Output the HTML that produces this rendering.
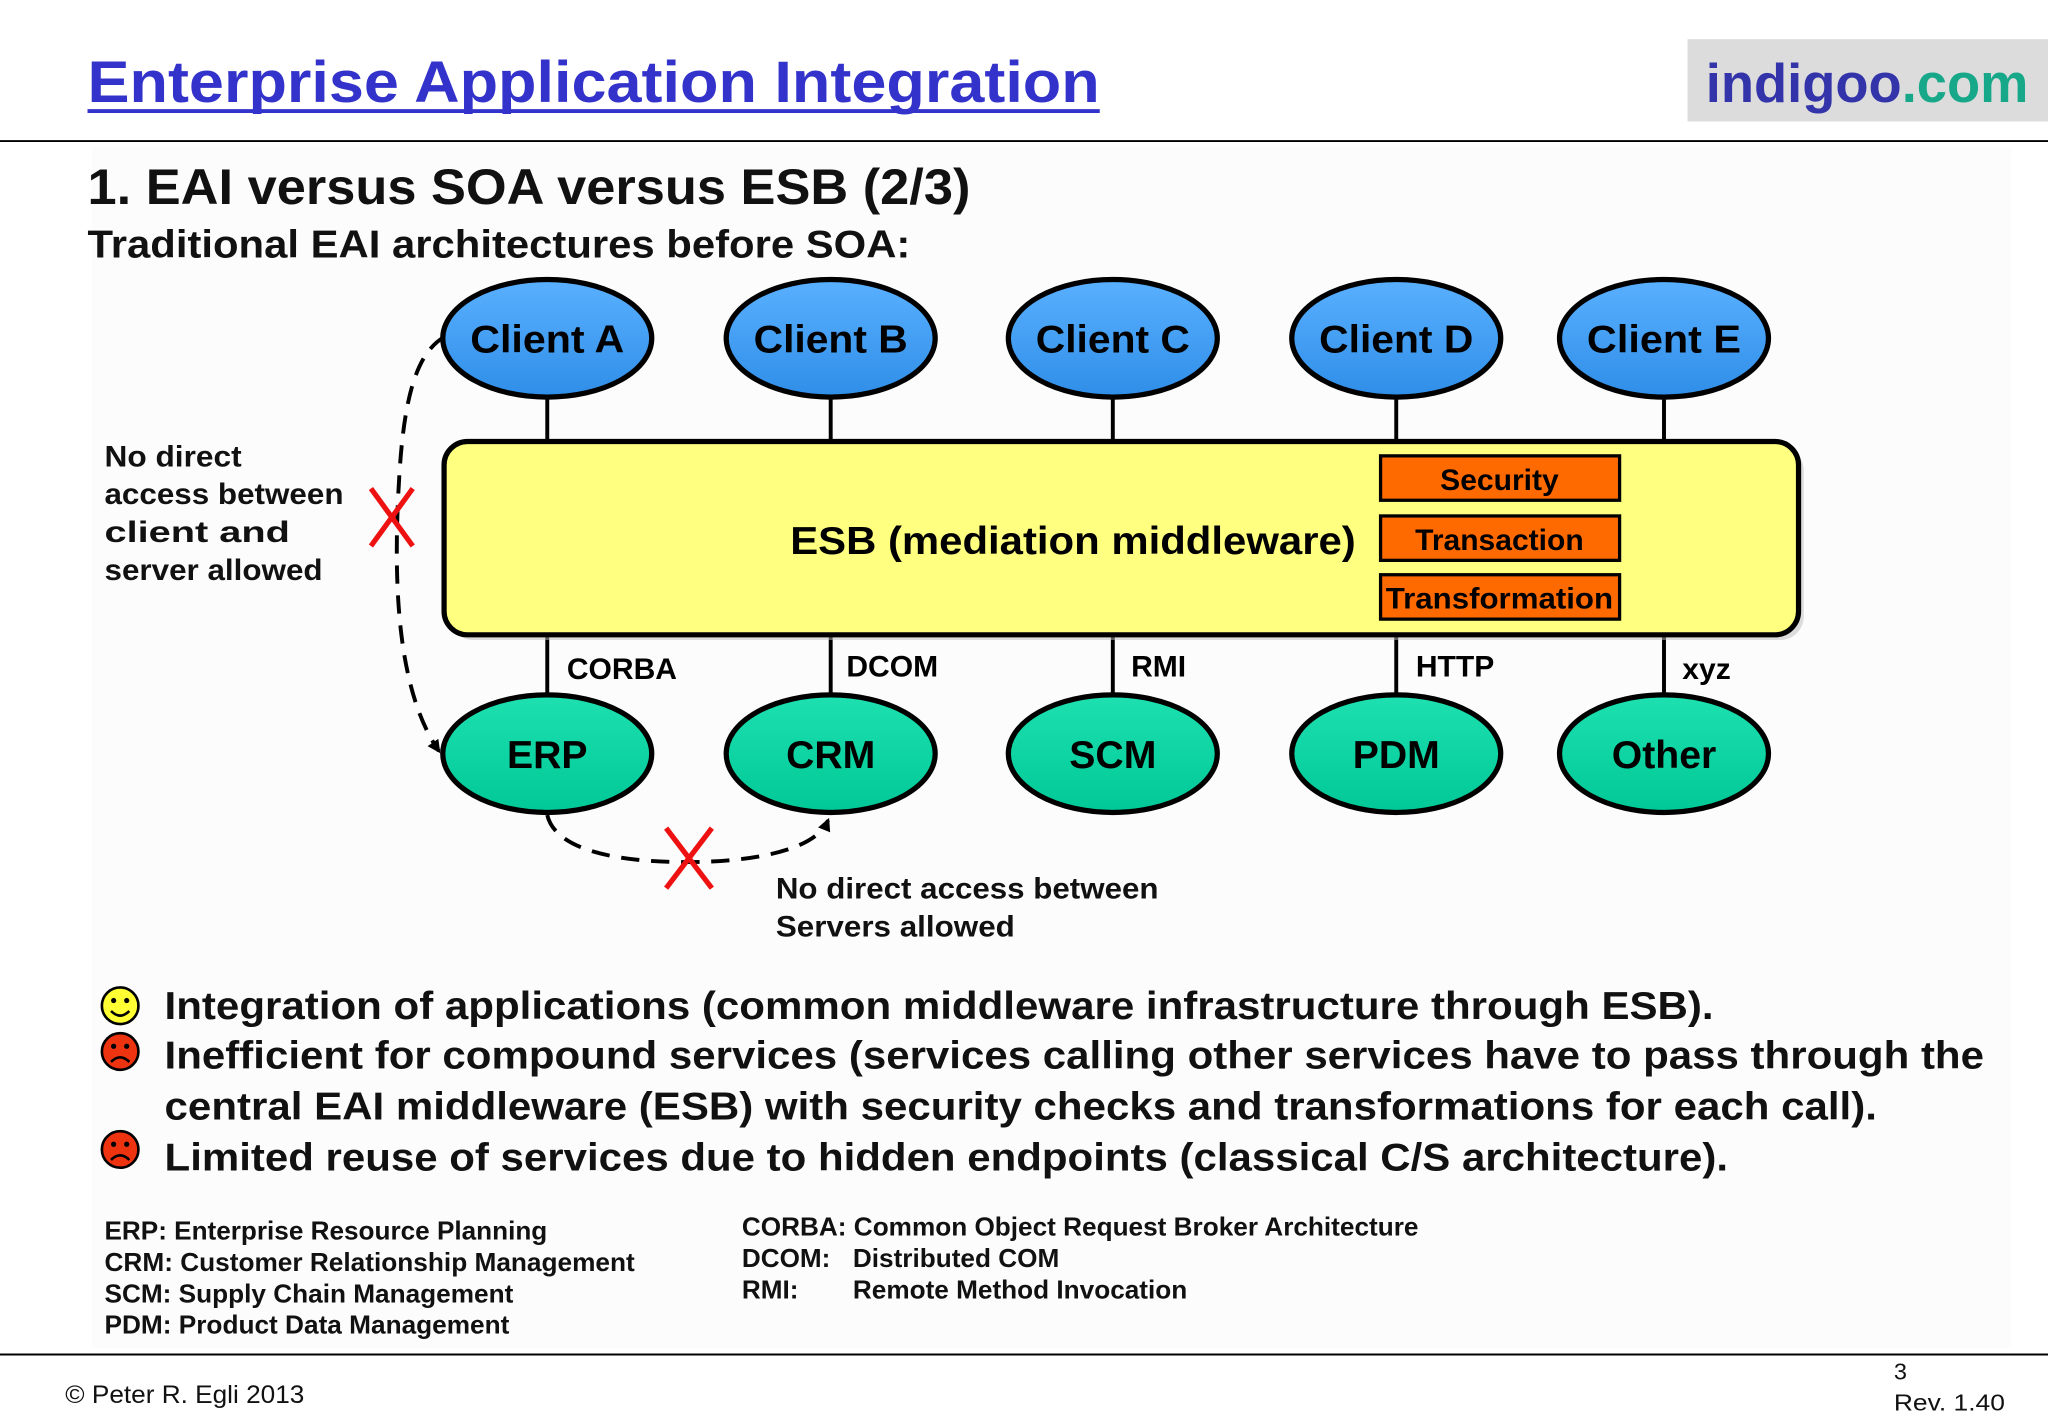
<!DOCTYPE html>
<html><head><meta charset="utf-8"><style>
html,body{margin:0;padding:0;background:#fff;}
svg{display:block;}
text{font-family:"Liberation Sans",Arial,sans-serif;}
</style></head><body>
<svg width="2048" height="1418" viewBox="0 0 1568 1085.6" preserveAspectRatio="none" xmlns="http://www.w3.org/2000/svg">
<defs>
<linearGradient id="bl" x1="0" y1="0" x2="0" y2="1"><stop offset="0" stop-color="#5ab0ff"/><stop offset="1" stop-color="#2f8ee8"/></linearGradient>
<linearGradient id="gr" x1="0" y1="0" x2="0" y2="1"><stop offset="0" stop-color="#1ee0b0"/><stop offset="1" stop-color="#00c896"/></linearGradient>
<marker id="ah" markerWidth="10" markerHeight="10" refX="8" refY="5" orient="auto" markerUnits="userSpaceOnUse"><path d="M0,0 L10,5 L0,10 z" fill="#000"/></marker>
</defs>
<rect x="0" y="0" width="1568" height="1086" fill="#fff"/>
<rect x="70" y="112" width="1470" height="920" fill="#fcfcfc"/>
<text x="67" y="78" font-size="45" font-weight="bold" fill="#3333cc" textLength="775" lengthAdjust="spacingAndGlyphs">Enterprise Application Integration</text>
<line x1="67" y1="85" x2="842" y2="85" stroke="#3333cc" stroke-width="3"/>
<rect x="1292" y="30" width="276" height="63" fill="#dcdcdc"/>
<text x="1306" y="78" font-size="42" font-weight="bold" fill="#3333aa" textLength="247" lengthAdjust="spacingAndGlyphs">indigoo<tspan fill="#17a88a">.com</tspan></text>
<line x1="0" y1="108" x2="1568" y2="108" stroke="#000" stroke-width="1.5"/>
<text x="67" y="156" font-size="38" font-weight="bold" fill="#111" textLength="676" lengthAdjust="spacingAndGlyphs">1. EAI versus SOA versus ESB (2/3)</text>
<text x="67" y="197" font-size="30" font-weight="bold" fill="#111" textLength="630" lengthAdjust="spacingAndGlyphs">Traditional EAI architectures before SOA:</text>
<g stroke="#000" stroke-width="3">
<line x1="419" y1="304" x2="419" y2="340"/><line x1="636" y1="304" x2="636" y2="340"/><line x1="852" y1="304" x2="852" y2="340"/><line x1="1069" y1="304" x2="1069" y2="340"/><line x1="1274" y1="304" x2="1274" y2="340"/>
<line x1="419" y1="486" x2="419" y2="534"/><line x1="636" y1="486" x2="636" y2="534"/><line x1="852" y1="486" x2="852" y2="534"/><line x1="1069" y1="486" x2="1069" y2="534"/><line x1="1274" y1="486" x2="1274" y2="534"/>
</g>
<rect x="344" y="342" width="1037" height="148" rx="18" fill="#bbb" opacity="0.5"/>
<rect x="340" y="338" width="1037" height="148" rx="18" fill="#ffff80" stroke="#000" stroke-width="4"/>
<text x="605" y="424" font-size="30" font-weight="bold" textLength="433" lengthAdjust="spacingAndGlyphs">ESB (mediation middleware)</text>
<g stroke="#000" stroke-width="2.5" fill="#ff6a00">
<rect x="1057" y="349" width="183" height="34"/><rect x="1057" y="395" width="183" height="34"/><rect x="1057" y="440" width="183" height="34"/>
</g>
<g font-size="23" font-weight="bold" text-anchor="middle">
<text x="1148" y="375">Security</text><text x="1148" y="421">Transaction</text><text x="1148" y="466" textLength="174" lengthAdjust="spacingAndGlyphs">Transformation</text>
</g>
<g stroke="#000" stroke-width="4" fill="url(#bl)">
<ellipse cx="419" cy="259" rx="80" ry="45"/><ellipse cx="636" cy="259" rx="80" ry="45"/><ellipse cx="852" cy="259" rx="80" ry="45"/><ellipse cx="1069" cy="259" rx="80" ry="45"/><ellipse cx="1274" cy="259" rx="80" ry="45"/>
</g>
<g font-size="30" font-weight="bold" text-anchor="middle">
<text x="419" y="270" textLength="118" lengthAdjust="spacingAndGlyphs">Client A</text><text x="636" y="270" textLength="118" lengthAdjust="spacingAndGlyphs">Client B</text><text x="852" y="270" textLength="118" lengthAdjust="spacingAndGlyphs">Client C</text><text x="1069" y="270" textLength="118" lengthAdjust="spacingAndGlyphs">Client D</text><text x="1274" y="270" textLength="118" lengthAdjust="spacingAndGlyphs">Client E</text>
</g>
<g stroke="#000" stroke-width="4" fill="url(#gr)">
<ellipse cx="419" cy="577" rx="80" ry="45"/><ellipse cx="636" cy="577" rx="80" ry="45"/><ellipse cx="852" cy="577" rx="80" ry="45"/><ellipse cx="1069" cy="577" rx="80" ry="45"/><ellipse cx="1274" cy="577" rx="80" ry="45"/>
</g>
<g font-size="30" font-weight="bold" text-anchor="middle">
<text x="419" y="588">ERP</text><text x="636" y="588">CRM</text><text x="852" y="588">SCM</text><text x="1069" y="588">PDM</text><text x="1274" y="588">Other</text>
</g>
<g font-size="23" font-weight="bold">
<text x="434" y="520">CORBA</text><text x="648" y="518">DCOM</text><text x="866" y="518">RMI</text><text x="1084" y="518">HTTP</text><text x="1288" y="520">xyz</text>
</g>
<path d="M340,258 C320,270 310,300 306,360 C300,450 305,530 336,575" fill="none" stroke="#000" stroke-width="3" stroke-dasharray="14,9" marker-end="url(#ah)"/>
<path d="M419,624 C425,650 470,660 525,660 C580,660 625,650 634,628" fill="none" stroke="#000" stroke-width="3" stroke-dasharray="14,9" marker-end="url(#ah)"/>
<g stroke="#ee1111" stroke-width="4">
<line x1="284" y1="374" x2="316" y2="418"/><line x1="316" y1="374" x2="284" y2="418"/>
<line x1="510" y1="634" x2="545" y2="680"/><line x1="545" y1="634" x2="510" y2="680"/>
</g>
<g font-size="23" font-weight="bold" fill="#111" lengthAdjust="spacingAndGlyphs">
<text x="80" y="357" textLength="105" lengthAdjust="spacingAndGlyphs">No direct</text><text x="80" y="386" textLength="183" lengthAdjust="spacingAndGlyphs">access between</text><text x="80" y="415" textLength="142" lengthAdjust="spacingAndGlyphs">client and</text><text x="80" y="444" textLength="167" lengthAdjust="spacingAndGlyphs">server allowed</text>
<text x="594" y="688" textLength="293" lengthAdjust="spacingAndGlyphs">No direct access between</text><text x="594" y="717" textLength="183" lengthAdjust="spacingAndGlyphs">Servers allowed</text>
</g>
<circle cx="92" cy="770" r="14" fill="#ffff33" stroke="#000" stroke-width="2"/>
<circle cx="87" cy="766" r="2" fill="#000"/><circle cx="97" cy="766" r="2" fill="#000"/>
<path d="M85,774 Q92,781 99,774" fill="none" stroke="#000" stroke-width="2"/>
<circle cx="92" cy="805" r="14" fill="#ee3311" stroke="#000" stroke-width="2"/>
<circle cx="87" cy="801" r="2" fill="#000"/><circle cx="97" cy="801" r="2" fill="#000"/>
<path d="M85,813 Q92,806 99,813" fill="none" stroke="#000" stroke-width="2"/>
<circle cx="92" cy="880" r="14" fill="#ee3311" stroke="#000" stroke-width="2"/>
<circle cx="87" cy="876" r="2" fill="#000"/><circle cx="97" cy="876" r="2" fill="#000"/>
<path d="M85,888 Q92,881 99,888" fill="none" stroke="#000" stroke-width="2"/>
<g font-size="30" font-weight="bold" fill="#111">
<text x="126" y="780" textLength="1186" lengthAdjust="spacingAndGlyphs">Integration of applications (common middleware infrastructure through ESB).</text>
<text x="126" y="818" textLength="1393" lengthAdjust="spacingAndGlyphs">Inefficient for compound services (services calling other services have to pass through the</text>
<text x="126" y="857" textLength="1311" lengthAdjust="spacingAndGlyphs">central EAI middleware (ESB) with security checks and transformations for each call).</text>
<text x="126" y="896" textLength="1197" lengthAdjust="spacingAndGlyphs">Limited reuse of services due to hidden endpoints (classical C/S architecture).</text>
</g>
<g font-size="20" font-weight="bold" fill="#111">
<text x="80" y="949" textLength="339" lengthAdjust="spacingAndGlyphs">ERP: Enterprise Resource Planning</text>
<text x="80" y="973" textLength="406" lengthAdjust="spacingAndGlyphs">CRM: Customer Relationship Management</text>
<text x="80" y="997" textLength="313" lengthAdjust="spacingAndGlyphs">SCM: Supply Chain Management</text>
<text x="80" y="1021" textLength="310" lengthAdjust="spacingAndGlyphs">PDM: Product Data Management</text>
<text x="568" y="946" textLength="518" lengthAdjust="spacingAndGlyphs">CORBA: Common Object Request Broker Architecture</text>
<text x="568" y="970">DCOM:</text><text x="653" y="970" textLength="158" lengthAdjust="spacingAndGlyphs">Distributed COM</text>
<text x="568" y="994">RMI:</text><text x="653" y="994" textLength="256" lengthAdjust="spacingAndGlyphs">Remote Method Invocation</text>
</g>
<line x1="0" y1="1037" x2="1568" y2="1037" stroke="#000" stroke-width="1.5"/>
<text x="50" y="1074" font-size="19" fill="#111" textLength="183" lengthAdjust="spacingAndGlyphs">© Peter R. Egli 2013</text>
<text x="1450" y="1056" font-size="18" fill="#111">3</text>
<text x="1450" y="1080" font-size="18" fill="#111" textLength="85" lengthAdjust="spacingAndGlyphs">Rev. 1.40</text>
</svg>
</body></html>
